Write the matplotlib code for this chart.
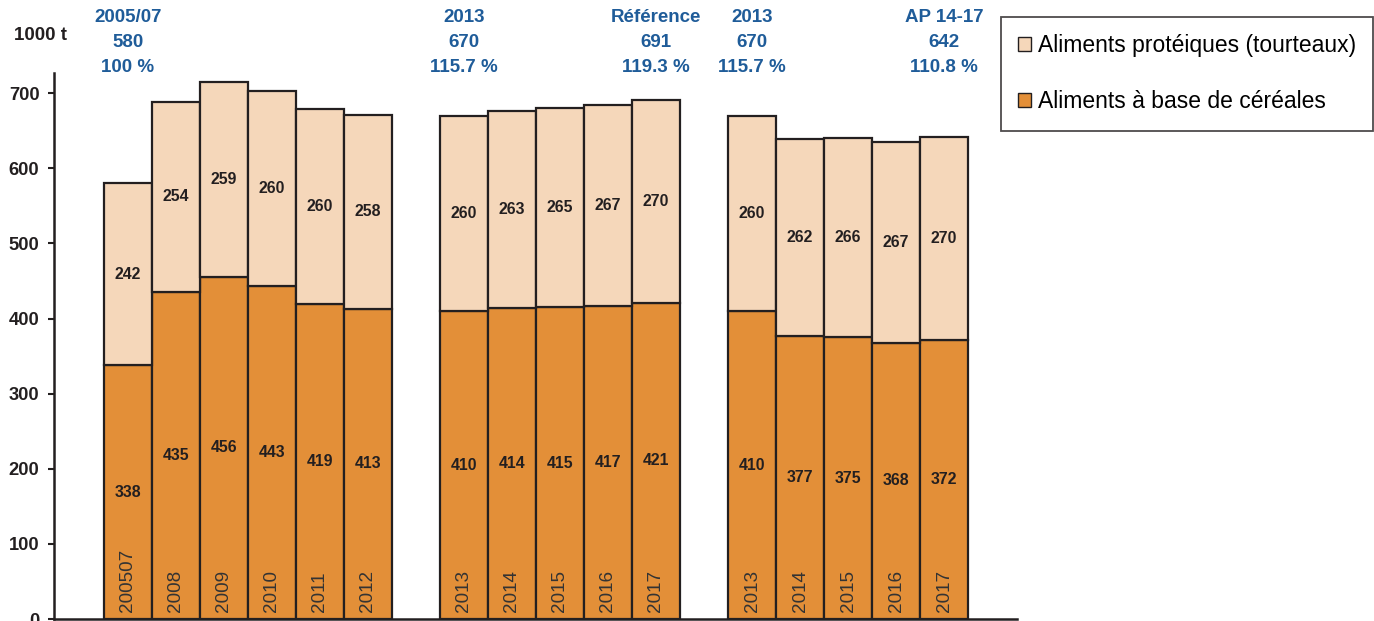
import matplotlib.pyplot as plt
from matplotlib.patches import Patch
import numpy as np

plt.rcParams['font.family'] = ['Liberation Sans', 'DejaVu Sans']

# slot index of each bar (empty slots 6 and 12 separate the three blocks)
slots = [0, 1, 2, 3, 4, 5, 7, 8, 9, 10, 11, 13, 14, 15, 16, 17]
years = ['200507', '2008', '2009', '2010', '2011', '2012',
         '2013', '2014', '2015', '2016', '2017',
         '2013', '2014', '2015', '2016', '2017']
cereales = [338, 435, 456, 443, 419, 413,
            410, 414, 415, 417, 421,
            410, 377, 375, 368, 372]
proteiques = [242, 254, 259, 260, 260, 258,
              260, 263, 265, 267, 270,
              260, 262, 266, 267, 270]

# headline figures above selected bars
head_slots = [0, 7, 11, 13, 17]
head_names = ['2005/07', '2013', 'Référence', '2013', 'AP 14-17']
head_totals = [580, 670, 691, 670, 642]
head_pct = ['100 %', '115.7 %', '119.3 %', '115.7 %', '110.8 %']

c_cer = '#E38F38'
c_pro = '#F5D7BA'
c_edge = '#231F20'
c_blue = '#1F5C99'

fig = plt.figure(figsize=(13.74, 6.21), dpi=100)
ax = fig.add_axes([54 / 1374, 2 / 621, (1017 - 54) / 1374, (619 - 73) / 621])

x = np.array(slots)
ax.bar(x, cereales, width=1.0, color=c_cer, edgecolor=c_edge, linewidth=1.6, zorder=2)
ax.bar(x, proteiques, width=1.0, bottom=cereales, color=c_pro, edgecolor=c_edge,
       linewidth=1.6, zorder=2)

for xi, yr, c, p in zip(x, years, cereales, proteiques):
    ax.text(xi, c / 2, str(c), ha='center', va='center', fontsize=11.4,
            fontweight='bold', color='#231F20', zorder=3)
    ax.text(xi, c + p / 2, str(p), ha='center', va='center', fontsize=11.4,
            fontweight='bold', color='#231F20', zorder=3)
    ax.text(xi, 9, yr, rotation=90, ha='center', va='bottom', fontsize=13.6,
            color='#333333', zorder=3)

ax.set_xlim(-1.54, 18.52)
ax.set_ylim(0, 727)
ax.set_yticks(range(0, 701, 100))
ax.set_xticks([])
ax.spines['top'].set_visible(False)
ax.spines['right'].set_visible(False)
for s in ('left', 'bottom'):
    ax.spines[s].set_linewidth(1.8)
    ax.spines[s].set_color(c_edge)
ax.tick_params(axis='y', length=4.5, width=1.5, color=c_edge, labelsize=13.2, pad=6)
for lab in ax.get_yticklabels():
    lab.set_fontweight('bold')
    lab.set_color('#231F20')

fig.text(41 / 1374, 1 - 36 / 621, '1000 t', ha='center', va='center',
         fontsize=13.5, fontweight='bold', color='#231F20')

for s, name, tot, pct in zip(head_slots, head_names, head_totals, head_pct):
    xf = (104 + s * 48 + 24) / 1374
    for k, txt in enumerate([name, str(tot), pct]):
        fig.text(xf, 1 - (17 + k * 25.5) / 621, txt, ha='center', va='center',
                 fontsize=13.5, fontweight='bold', color=c_blue)

handles = [Patch(facecolor=c_pro, edgecolor=c_edge, linewidth=1.0),
           Patch(facecolor=c_cer, edgecolor=c_edge, linewidth=1.0)]
leg = fig.legend(handles, ['Aliments protéiques (tourteaux)', 'Aliments à base de céréales'],
                 loc='upper left', bbox_to_anchor=(1001 / 1374, 1 - 17 / 621),
                 fontsize=16.5, frameon=True, fancybox=False, handlelength=0.55,
                 handleheight=0.55, handletextpad=0.3, labelspacing=1.45,
                 borderpad=0.75, borderaxespad=0)
leg.get_frame().set_edgecolor(c_edge)
leg.get_frame().set_linewidth(1.3)

fig.savefig('out.png', dpi=100)
